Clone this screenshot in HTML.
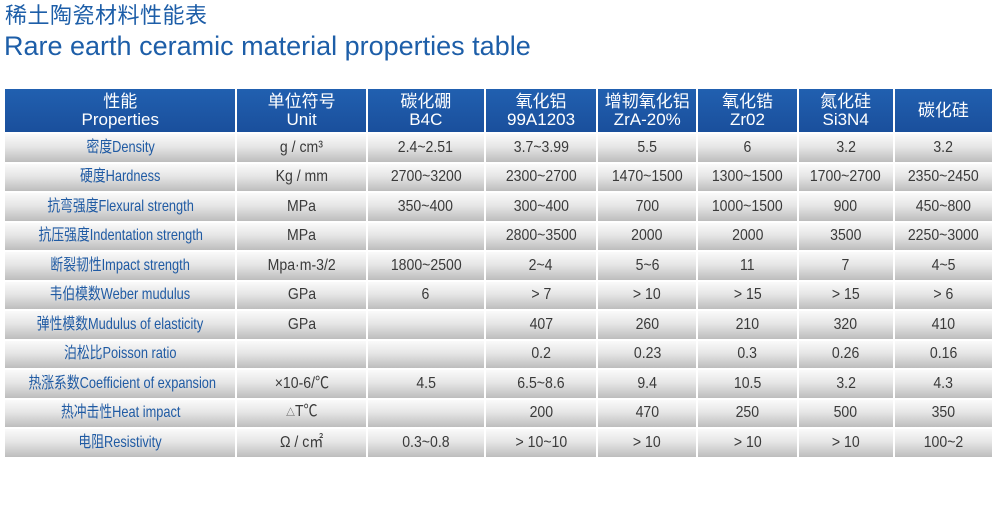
<!DOCTYPE html>
<html><head><meta charset="utf-8"><style>
body{margin:0;width:1000px;height:515px;background:#fff;overflow:hidden;position:relative;font-family:"Liberation Sans","Noto Sans CJK SC",sans-serif}
.t1{position:absolute;left:5px;top:3px;font-size:22px;color:#1d5ea8;line-height:26px;letter-spacing:0.5px}
.t2{position:absolute;left:4px;top:30px;font-size:27px;color:#1d5ea8;line-height:32px}
table{position:absolute;left:3px;top:87px;border-collapse:separate;border-spacing:2px;table-layout:fixed;width:991px}
td{padding:0;text-align:center;height:27.5px;background:linear-gradient(#fafafa 0%,#e6e6e6 45%,#bdbdbd 100%);color:#3a3a3a;font-size:16px;font-family:"Liberation Sans","Noto Sans CJK SC",sans-serif;line-height:16px;white-space:nowrap;overflow:hidden}
td i{font-style:normal;display:inline-block;transform:scaleX(0.88)}
td.l i{transform:scaleX(0.8)}
tr.h td{height:43px;background:linear-gradient(#2160b0,#1a4f9c);color:#fff;font-size:17px;line-height:18px}
td.l{color:#1f5aa3}
</style></head><body>
<div class="t1">稀土陶瓷材料性能表</div>
<div class="t2">Rare earth ceramic material properties table</div>
<table>
<colgroup><col style="width:230px"><col style="width:128px"><col style="width:116px"><col style="width:110px"><col style="width:98px"><col style="width:98px"><col style="width:94px"><col style="width:97px"></colgroup>
<tr class="h"><td>性能<br>Properties</td><td>单位符号<br>Unit</td><td>碳化硼<br>B4C</td><td>氧化铝<br>99A1203</td><td>增韧氧化铝<br>ZrA-20%</td><td>氧化锆<br>Zr02</td><td>氮化硅<br>Si3N4</td><td>碳化硅</td></tr>
<tr><td class="l"><i>密度Density</i></td><td><i>g / cm³</i></td><td><i>2.4~2.51</i></td><td><i>3.7~3.99</i></td><td><i>5.5</i></td><td><i>6</i></td><td><i>3.2</i></td><td><i>3.2</i></td></tr>
<tr><td class="l"><i>硬度Hardness</i></td><td><i>Kg / mm</i></td><td><i>2700~3200</i></td><td><i>2300~2700</i></td><td><i>1470~1500</i></td><td><i>1300~1500</i></td><td><i>1700~2700</i></td><td><i>2350~2450</i></td></tr>
<tr><td class="l"><i>抗弯强度Flexural strength</i></td><td><i>MPa</i></td><td><i>350~400</i></td><td><i>300~400</i></td><td><i>700</i></td><td><i>1000~1500</i></td><td><i>900</i></td><td><i>450~800</i></td></tr>
<tr><td class="l"><i>抗压强度Indentation strength</i></td><td><i>MPa</i></td><td></td><td><i>2800~3500</i></td><td><i>2000</i></td><td><i>2000</i></td><td><i>3500</i></td><td><i>2250~3000</i></td></tr>
<tr><td class="l"><i>断裂韧性Impact strength</i></td><td><i>Mpa·m-3/2</i></td><td><i>1800~2500</i></td><td><i>2~4</i></td><td><i>5~6</i></td><td><i>11</i></td><td><i>7</i></td><td><i>4~5</i></td></tr>
<tr><td class="l"><i>韦伯模数Weber mudulus</i></td><td><i>GPa</i></td><td><i>6</i></td><td><i>&gt; 7</i></td><td><i>&gt; 10</i></td><td><i>&gt; 15</i></td><td><i>&gt; 15</i></td><td><i>&gt; 6</i></td></tr>
<tr><td class="l"><i>弹性模数Mudulus of elasticity</i></td><td><i>GPa</i></td><td></td><td><i>407</i></td><td><i>260</i></td><td><i>210</i></td><td><i>320</i></td><td><i>410</i></td></tr>
<tr><td class="l"><i>泊松比Poisson ratio</i></td><td></td><td></td><td><i>0.2</i></td><td><i>0.23</i></td><td><i>0.3</i></td><td><i>0.26</i></td><td><i>0.16</i></td></tr>
<tr><td class="l"><i>热涨系数Coefficient of expansion</i></td><td><i>×10-6/℃</i></td><td><i>4.5</i></td><td><i>6.5~8.6</i></td><td><i>9.4</i></td><td><i>10.5</i></td><td><i>3.2</i></td><td><i>4.3</i></td></tr>
<tr><td class="l"><i>热冲击性Heat impact</i></td><td><i><small style="font-size:10px">△</small>T℃</i></td><td></td><td><i>200</i></td><td><i>470</i></td><td><i>250</i></td><td><i>500</i></td><td><i>350</i></td></tr>
<tr><td class="l"><i>电阻Resistivity</i></td><td><i>Ω / c㎡</i></td><td><i>0.3~0.8</i></td><td><i>&gt; 10~10</i></td><td><i>&gt; 10</i></td><td><i>&gt; 10</i></td><td><i>&gt; 10</i></td><td><i>100~2</i></td></tr>
</table>
</body></html>
